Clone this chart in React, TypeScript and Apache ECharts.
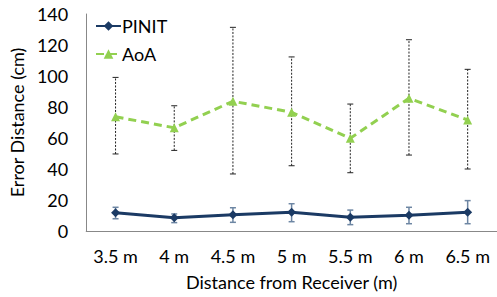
import React, { useEffect, useRef } from "react";
import * as echarts from "echarts";

const categories = ["3.5 m", "4 m", "4.5 m", "5 m", "5.5 m", "6 m", "6.5 m"];
const pinit = [11.8, 8.6, 10.5, 12.1, 8.8, 10.1, 12.1];
const pinitLow = [7.9, 5.4, 5.6, 6.0, 4.1, 4.7, 4.7];
const pinitHigh = [15.3, 11.0, 15.0, 17.6, 13.5, 15.3, 19.6];
const aoa = [73.7, 66.6, 83.7, 76.6, 59.8, 85.6, 71.6];
const aoaLow = [49.7, 52, 36.8, 42.1, 37.6, 49, 40];
const aoaHigh = [99.1, 80.8, 131.4, 112.3, 81.9, 123.4, 104.3];

const FONT = "Lato";
const FS = 18;

function errSeries(name: string, low: number[], high: number[], style: any) {
  return {
    type: "custom",
    name: name,
    silent: true,
    z: 1,
    data: categories.map((c, i) => [i, low[i], high[i]]),
    encode: { x: 0, y: [1, 2] },
    renderItem: (params: any, api: any) => {
      const x = api.value(0);
      const lo = api.coord([x, api.value(1)]);
      const hi = api.coord([x, api.value(2)]);
      const hw = 3;
      return {
        type: "group",
        children: [
          { type: "line", shape: { x1: lo[0], y1: lo[1], x2: hi[0], y2: hi[1] }, style },
          { type: "line", shape: { x1: hi[0] - hw, y1: hi[1], x2: hi[0] + hw, y2: hi[1] }, style: { ...style, lineDash: null } },
          { type: "line", shape: { x1: lo[0] - hw, y1: lo[1], x2: lo[0] + hw, y2: lo[1] }, style: { ...style, lineDash: null } },
        ],
      };
    },
  };
}

export default function App() {
  const ref = useRef<HTMLDivElement>(null);
  useEffect(() => {
    const chart = echarts.init(ref.current!, null, { renderer: "svg" });
    chart.setOption({
      animation: false,
      textStyle: { fontFamily: FONT },
      legend: {
        orient: "vertical",
        left: 90,
        top: 12,
        itemWidth: 25,
        itemHeight: 12,
        itemGap: 10,
        textStyle: { fontSize: FS, color: "#000", fontFamily: FONT, padding: [0, 0, 0, -4] },
        data: ["PINIT", "AoA"],
      },
      grid: { left: 86, top: 14, width: 416, bottom: 66 },
      xAxis: {
        type: "category",
        data: categories,
        boundaryGap: true,
        axisLine: { lineStyle: { color: "#888", width: 1 } },
        axisTick: { show: false },
        axisLabel: { fontSize: FS, color: "#000", margin: 16, fontFamily: FONT, interval: 0 },
        name: "Distance from Receiver (m)",
        nameLocation: "middle",
        nameGap: 42,
        nameTextStyle: { fontSize: FS, color: "#000", fontFamily: FONT },
      },
      yAxis: {
        type: "value",
        min: 0,
        max: 140,
        interval: 20,
        axisLine: { show: true, lineStyle: { color: "#888", width: 1 } },
        axisTick: { show: false },
        splitLine: { show: false },
        axisLabel: { fontSize: FS, color: "#000", margin: 18, fontFamily: FONT },
        name: "Error Distance (cm)",
        nameLocation: "middle",
        nameGap: 60,
        nameTextStyle: { fontSize: FS, color: "#000", fontFamily: FONT },
      },
      series: [
        errSeries("aoaErr", aoaLow, aoaHigh, { stroke: "#222", lineWidth: 1, lineDash: [2, 1.5] }),
        errSeries("pinitErr", pinitLow, pinitHigh, { stroke: "#6d86a3", lineWidth: 1.5 }),
        {
          name: "PINIT",
          type: "line",
          data: pinit,
          z: 3,
          symbol: "diamond",
          symbolSize: 9,
          itemStyle: { color: "#1b3a64" },
          lineStyle: { color: "#1b3a64", width: 3 },
        },
        {
          name: "AoA",
          type: "line",
          data: aoa,
          z: 3,
          symbol: "triangle",
          symbolSize: 9,
          itemStyle: { color: "#92d050" },
          lineStyle: { color: "#92d050", width: 3, type: [8, 5] },
        },
      ],
    });
    return () => chart.dispose();
  }, []);
  return <div ref={ref} style={{ width: 497, height: 297, position: "absolute", left: 0, top: 0 }} />;
}
